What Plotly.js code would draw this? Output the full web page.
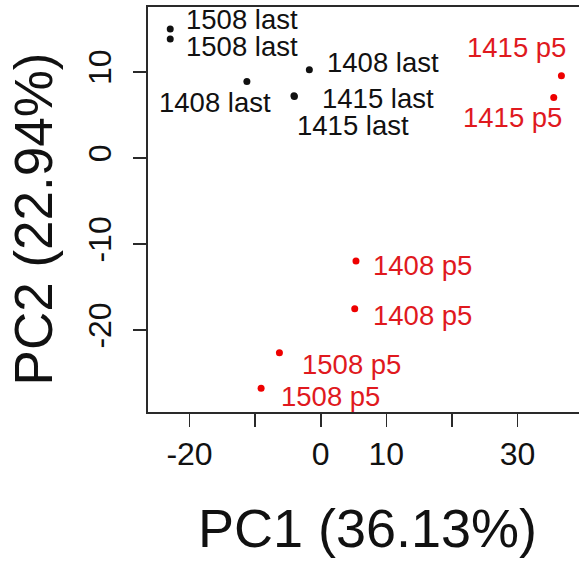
<!DOCTYPE html>
<html>
<head>
<meta charset="utf-8">
<script src="https://cdn.plot.ly/plotly-3.0.1.min.js"></script>
<style>
html,body{margin:0;padding:0;overflow:hidden;background:#fff;}
#chart{width:600px;height:562px;}
</style>
</head>
<body>
<div id="chart"></div>
<script>
// Data: "last" samples (black)
var lastLabels = ["1508 last", "1508 last", "1408 last", "1408 last", "1415 last", "1415 last"];
var lastPC1 = [-22.94, -22.94, -11.26, -1.74, -4.08, -4.02];
var lastPC2 = [15.0, 13.84, 8.91, 10.27, 7.25, 7.15];

// Data: "p5" samples (red)
var p5Labels = ["1415 p5", "1415 p5", "1408 p5", "1408 p5", "1508 p5", "1508 p5"];
var p5PC1 = [36.68, 35.51, 5.37, 5.18, -6.30, -9.09];
var p5PC2 = [9.57, 7.05, -11.94, -17.49, -22.6, -26.74];

// Axis ticks
var xTickVals = [-20, -10, 0, 10, 20, 30];
var xTickText = ["-20", "", "0", "10", "", "30"];
var yTickVals = [-20, -10, 0, 10];
var yTickText = ["-20", "-10", "0", "10"];

var xTitle = "PC1 (36.13%)";
var yTitle = "PC2 (22.94%)";

// Label placement styles (pixel offsets)
var lastLabelStyle = [
  {anchor: "left", dx: 14, dy: 9},
  {anchor: "left", dx: 14, dy: -8},
  {anchor: "left", dx: -90, dy: -21},
  {anchor: "left", dx: 16, dy: 7},
  {anchor: "left", dx: 26, dy: -3},
  {anchor: "left", dx: 1, dy: -29}
];
var p5LabelStyle = [
  {anchor: "right", dx: 7, dy: 28},
  {anchor: "right", dx: 10, dy: -20},
  {anchor: "left", dx: 15, dy: -5},
  {anchor: "left", dx: 16, dy: -7},
  {anchor: "left", dx: 21, dy: -12},
  {anchor: "left", dx: 18, dy: -8}
];

var BLACK = "#111111";
var RED = "#e0191e";
var FONT = "Liberation Sans, Arial, Helvetica, sans-serif";
var LABEL_SIZE = 27.5;

var traces = [
  {x: lastPC1, y: lastPC2, mode: "markers", type: "scatter",
   marker: {color: BLACK, size: 7}, hoverinfo: "skip", showlegend: false},
  {x: p5PC1, y: p5PC2, mode: "markers", type: "scatter",
   marker: {color: "#ee0000", size: 7}, hoverinfo: "skip", showlegend: false}
];

var annotations = [];
function addLabels(xs, ys, texts, styles, color) {
  for (var i = 0; i < xs.length; i++) {
    var s = styles[i];
    annotations.push({
      x: xs[i], y: ys[i], xref: "x", yref: "y", text: texts[i],
      showarrow: false, xanchor: s.anchor, yanchor: "middle",
      xshift: s.dx, yshift: s.dy,
      font: {family: FONT, size: LABEL_SIZE, color: color}
    });
  }
}
addLabels(lastPC1, lastPC2, lastLabels, lastLabelStyle, BLACK);
addLabels(p5PC1, p5PC2, p5Labels, p5LabelStyle, RED);

// Y axis title placed as a rotated annotation
annotations.push({
  xref: "paper", yref: "paper", x: -0.262, y: 0.478,
  text: yTitle, textangle: -90, showarrow: false,
  xanchor: "center", yanchor: "middle",
  font: {family: FONT, size: 53, color: "#111111"}
});

var axisCommon = {
  showgrid: false, zeroline: false, showline: true, mirror: true,
  linecolor: "#2a2a2a", linewidth: 1.6,
  ticks: "outside", ticklen: 13, tickwidth: 1.6, tickcolor: "#2a2a2a",
  tickfont: {family: FONT, size: 32, color: "#111111"},
  tickmode: "array"
};

var layout = {
  width: 600, height: 562,
  margin: {l: 148, r: 13, t: 7, b: 150},
  paper_bgcolor: "#ffffff", plot_bgcolor: "#ffffff",
  font: {family: FONT},
  xaxis: Object.assign({}, axisCommon, {
    range: [-26.33, 40.58],
    tickvals: xTickVals, ticktext: xTickText,
    ticklabelstandoff: 0,
    title: {text: xTitle, font: {family: FONT, size: 54, color: "#111111"}, standoff: 38}
  }),
  yaxis: Object.assign({}, axisCommon, {
    range: [-29.49, 17.55],
    tickvals: yTickVals, ticktext: yTickText,
    tickangle: -90,
    ticklabelstandoff: 10
  }),
  annotations: annotations,
  showlegend: false
};

Plotly.newPlot("chart", traces, layout, {displayModeBar: false, staticPlot: true});
</script>
</body>
</html>
